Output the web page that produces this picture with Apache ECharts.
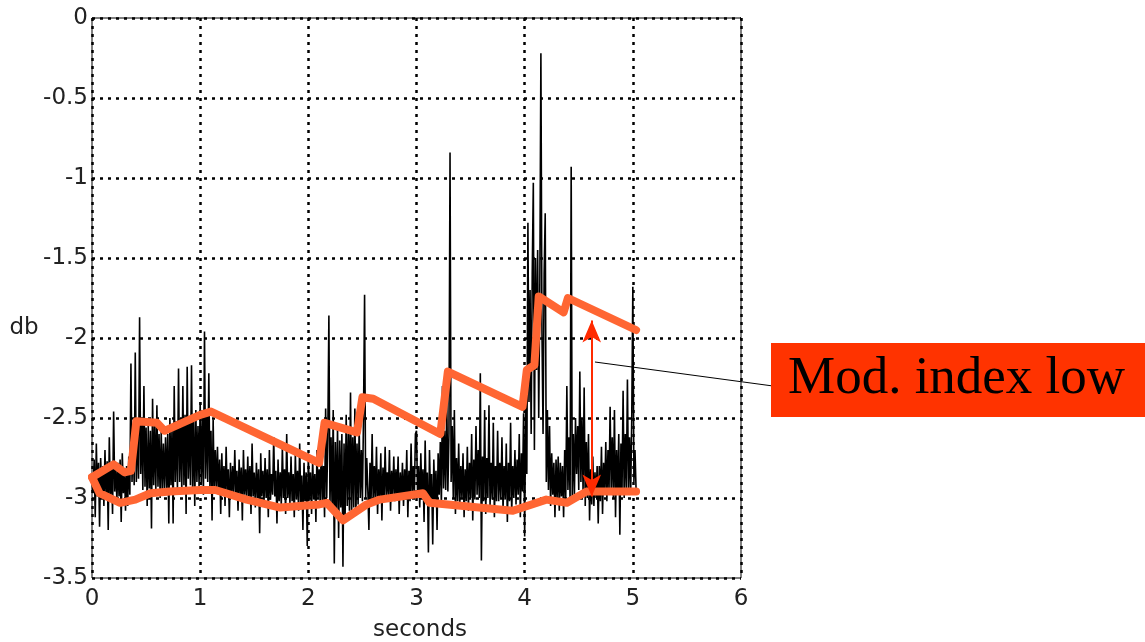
<!DOCTYPE html>
<html>
<head>
<meta charset="utf-8">
<script src="https://cdn.jsdelivr.net/npm/echarts@6/dist/echarts.min.js"></script>
<style>
  html, body { margin: 0; padding: 0; background: #fff; }
  #chart { width: 1145px; height: 642px; }
</style>
</head>
<body>
<div id="chart"></div>
<script>
// 轴刻度
const xTicks = [0, 1, 2, 3, 4, 5, 6];
const yTicks = [-3.5, -3, -2.5, -2, -1.5, -1, -0.5, 0];

// 原始信号 (db), 每 0.01 s 一个采样, 每行 0.1 s
const sigStep = 0.01;
const sigValues = [
  -2.90, -2.97, -2.76, -3.12, -2.66, -2.99, -2.78, -3.18, -2.75, -2.96,
  -2.80, -3.05, -2.70, -3.00, -2.77, -3.20, -2.62, -2.98, -2.79, -3.10,
  -2.46, -2.96, -2.80, -3.02, -2.78, -2.99, -2.76, -3.15, -2.72, -2.97,
  -2.82, -3.08, -2.80, -3.05, -2.74, -2.98, -2.16, -2.90, -2.60, -2.92,
  -2.09, -2.90, -2.52, -2.88, -1.87, -2.85, -2.50, -2.95, -2.30, -2.93,
  -2.56, -3.05, -2.55, -2.94, -2.58, -3.19, -2.38, -2.92, -2.54, -2.96,
  -2.42, -2.93, -2.60, -3.00, -2.58, -2.96, -2.66, -2.95, -2.62, -2.94,
  -2.60, -3.16, -2.50, -2.92, -2.55, -3.16, -2.30, -2.90, -2.52, -2.95,
  -2.19, -2.90, -2.50, -2.96, -2.30, -2.92, -2.48, -3.10, -2.18, -2.88,
  -2.52, -2.92, -2.17, -2.94, -2.50, -3.05, -2.45, -2.90, -2.55, -2.93,
  -2.40, -2.92, -2.50, -2.98, -1.96, -2.88, -2.45, -2.90, -2.22, -2.93,
  -2.58, -3.14, -2.51, -2.96, -2.70, -2.95, -2.68, -2.98, -2.76, -3.10,
  -2.72, -2.98, -2.80, -3.05, -2.68, -2.97, -2.82, -3.12, -2.78, -2.99,
  -2.80, -3.00, -2.70, -2.97, -2.83, -3.08, -2.76, -2.98, -2.81, -3.14,
  -2.70, -2.98, -2.82, -3.02, -2.74, -3.00, -2.80, -3.10, -2.66, -2.99,
  -2.84, -3.06, -2.78, -3.00, -2.82, -3.22, -2.72, -2.99, -2.83, -3.04,
  -2.75, -3.00, -2.82, -3.12, -2.70, -3.01, -2.85, -2.98, -2.62, -2.99,
  -2.83, -3.16, -2.76, -3.02, -2.84, -3.05, -2.68, -3.00, -2.82, -3.10,
  -2.60, -3.00, -2.84, -3.04, -2.74, -3.02, -2.85, -3.12, -2.72, -3.01,
  -2.83, -3.08, -2.66, -3.03, -2.86, -3.20, -2.78, -3.02, -2.84, -3.30,
  -2.72, -3.00, -2.84, -3.10, -2.76, -3.01, -2.85, -3.15, -2.70, -3.00,
  -2.82, -3.06, -2.64, -3.02, -2.80, -3.12, -2.44, -3.00, -2.62, -1.86,
  -3.05, -2.62, -3.08, -2.45, -3.41, -2.65, -3.10, -2.55, -3.25, -2.64,
  -3.06, -2.60, -3.43, -2.66, -3.12, -2.48, -3.05, -2.60, -3.08, -2.34,
  -3.12, -2.62, -3.06, -2.44, -3.10, -2.66, -3.04, -2.55, -3.00, -2.70,
  -3.02, -2.50, -1.73, -3.00, -2.75, -2.95, -3.20, -2.78, -3.02, -2.60,
  -3.05, -2.80, -3.00, -2.68, -3.10, -2.82, -3.01, -2.72, -3.14, -2.81,
  -3.02, -2.68, -3.00, -2.84, -2.99, -2.70, -3.08, -2.83, -3.00, -2.74,
  -3.02, -2.82, -3.00, -2.74, -3.10, -2.84, -3.01, -2.78, -3.05, -2.82,
  -3.00, -2.70, -3.12, -2.83, -3.02, -2.66, -3.00, -2.80, -2.98, -2.60,
  -2.58, -2.98, -2.80, -3.06, -2.72, -3.00, -2.82, -3.15, -2.64, -3.02,
  -2.84, -3.34, -2.70, -3.00, -2.85, -3.29, -2.76, -3.01, -2.83, -3.20,
  -2.72, -2.98, -2.65, -3.05, -2.30, -2.94, -2.58, -2.95, -2.40, -2.96,
  -2.60, -0.84, -2.90, -2.55, -3.00, -2.45, -3.10, -2.75, -3.02, -2.66,
  -3.05, -2.80, -3.00, -2.72, -3.12, -2.82, -3.02, -2.68, -3.08, -2.78,
  -3.00, -2.60, -3.14, -2.76, -3.01, -2.55, -2.98, -2.70, -3.00, -2.22,
  -3.39, -2.74, -3.02, -2.45, -3.10, -2.75, -3.00, -2.42, -3.05, -2.78,
  -3.01, -2.53, -3.12, -2.80, -3.02, -2.58, -3.02, -2.78, -3.00, -2.62,
  -3.08, -2.80, -3.01, -2.66, -3.15, -2.78, -3.02, -2.53, -3.10, -2.80,
  -3.00, -2.70, -3.04, -2.76, -2.98, -2.60, -3.12, -2.72, -2.96, -2.47,
  -3.24, -2.40, -2.85, -1.28, -2.40, -1.70, -2.60, -1.60, -1.03, -2.70,
  -1.50, -2.20, -1.45, -2.50, -1.70, -0.22, -1.97, -2.60, -1.60, -1.22,
  -2.90, -2.45, -2.95, -2.55, -3.05, -2.72, -2.98, -2.78, -3.12, -2.76,
  -3.00, -2.74, -3.08, -2.78, -2.99, -2.80, -3.12, -2.70, -3.00, -2.30,
  -2.95, -2.62, -3.02, -0.93, -3.00, -2.60, -2.98, -2.50, -2.85, -2.55,
  -2.95, -2.21, -2.90, -2.50, -2.96, -2.31, -3.05, -2.65, -3.00, -2.60,
  -3.14, -2.82, -3.04, -2.74, -3.05, -2.84, -3.00, -2.80, -3.16, -2.80,
  -3.02, -2.68, -3.10, -2.78, -2.98, -2.65, -3.02, -2.70, -2.96, -2.43,
  -2.95, -2.62, -3.00, -2.45, -3.12, -2.70, -2.98, -2.60, -3.23, -2.66,
  -2.96, -2.33, -3.00, -2.60, -2.94, -2.26, -2.95, -2.62, -2.98, -2.50,
  -1.68, -2.90, -2.70, -2.95
];

// 上包络 (橙色)
const upperT = [0, 0.2, 0.3, 0.36, 0.41, 0.6, 0.67, 1.0, 1.1, 2.1, 2.15, 2.45, 2.5, 2.6, 3.22, 3.29, 3.98, 4.02, 4.09, 4.13, 4.36, 4.4, 5.03];
const upperV = [-2.87, -2.79, -2.84, -2.83, -2.52, -2.53, -2.58, -2.48, -2.46, -2.78, -2.53, -2.59, -2.37, -2.38, -2.60, -2.21, -2.43, -2.20, -2.17, -1.74, -1.84, -1.75, -1.95];

// 下包络 (橙色)
const lowerT = [0, 0.07, 0.26, 0.4, 0.54, 0.72, 1.0, 1.14, 1.43, 1.74, 2.1, 2.17, 2.32, 2.54, 2.66, 3.06, 3.12, 3.89, 4.2, 4.39, 4.57, 5.03];
const lowerV = [-2.87, -2.97, -3.03, -3.01, -2.97, -2.96, -2.95, -2.95, -3.01, -3.06, -3.04, -3.03, -3.14, -3.04, -3.01, -2.97, -3.03, -3.08, -3.01, -3.03, -2.96, -2.96];

// 双箭头 (调制深度)
const arrowT = 4.62;
const arrowFrom = -2.99;
const arrowTo = -1.89;

// 标注
const noteText = 'Mod. index low';
const notePoint = [4.65, -2.15];

const chart = echarts.init(document.getElementById('chart'));

const labelFont = { fontFamily: 'DejaVu Sans', fontSize: 23, color: '#222' };
const dotted = { color: '#000', width: 2.5, type: [3, 5] };

chart.setOption({
  animation: false,
  grid: {
    left: 92, top: 18, right: 404, bottom: 64,
    outerBoundsMode: 'none', // 不让轴标签挤压绘图区
    show: true, borderColor: '#000', borderWidth: 1
  },
  xAxis: {
    type: 'value',
    min: xTicks[0], max: xTicks[xTicks.length - 1], interval: 1,
    axisLine: { show: false },
    axisTick: { show: false },
    axisLabel: Object.assign({ margin: 10 }, labelFont),
    splitLine: { show: true, lineStyle: dotted }
  },
  yAxis: {
    type: 'value',
    min: yTicks[0], max: yTicks[yTicks.length - 1], interval: 0.5,
    axisLine: { show: false },
    axisTick: { show: false },
    axisLabel: Object.assign({ margin: 4 }, labelFont),
    splitLine: { show: true, lineStyle: dotted }
  },
  series: [
    {
      type: 'line',
      data: sigValues.map((v, i) => [i * sigStep, v]),
      showSymbol: false,
      sampling: null,
      lineStyle: { color: '#000', width: 1.6 },
      z: 2
    },
    {
      type: 'line',
      data: upperT.map((t, i) => [t, upperV[i]]),
      showSymbol: false,
      lineStyle: { color: '#ff6633', width: 8, cap: 'round', join: 'round' },
      z: 3
    },
    {
      type: 'line',
      data: lowerT.map((t, i) => [t, lowerV[i]]),
      showSymbol: false,
      lineStyle: { color: '#ff6633', width: 8, cap: 'round', join: 'round' },
      z: 3
    },
    {
      type: 'line',
      data: [],
      z: 4,
      markLine: {
        silent: true,
        symbol: ['arrow', 'arrow'],
        symbolSize: [14, 22],
        label: { show: false },
        lineStyle: { color: '#ff2a00', width: 2, type: 'solid' },
        data: [[{ coord: [arrowT, arrowFrom] }, { coord: [arrowT, arrowTo] }]]
      }
    }
  ]
});

// 轴名, 红色标签框 + 引线
const p0 = chart.convertToPixel({ gridIndex: 0 }, notePoint);
chart.setOption({
  graphic: [
    {
      type: 'text',
      x: 24, y: 328,
      style: { text: 'db', font: '23px "DejaVu Sans"', fill: '#222', align: 'center', verticalAlign: 'middle' }
    },
    {
      type: 'text',
      x: 420, y: 630,
      style: { text: 'seconds', font: '23px "DejaVu Sans"', fill: '#222', align: 'center', verticalAlign: 'middle' }
    },
    {
      type: 'line',
      shape: { x1: p0[0], y1: p0[1], x2: 773, y2: 386 },
      style: { stroke: '#000', lineWidth: 1 },
      z: 10
    },
    {
      type: 'rect',
      shape: { x: 771, y: 343, width: 380, height: 74 },
      style: { fill: '#ff3300' },
      z: 10
    },
    {
      type: 'text',
      x: 788, y: 379,
      style: {
        text: noteText,
        fill: '#000',
        font: '53px "Liberation Serif"',
        verticalAlign: 'middle'
      },
      z: 11
    }
  ]
});
</script>
</body>
</html>
